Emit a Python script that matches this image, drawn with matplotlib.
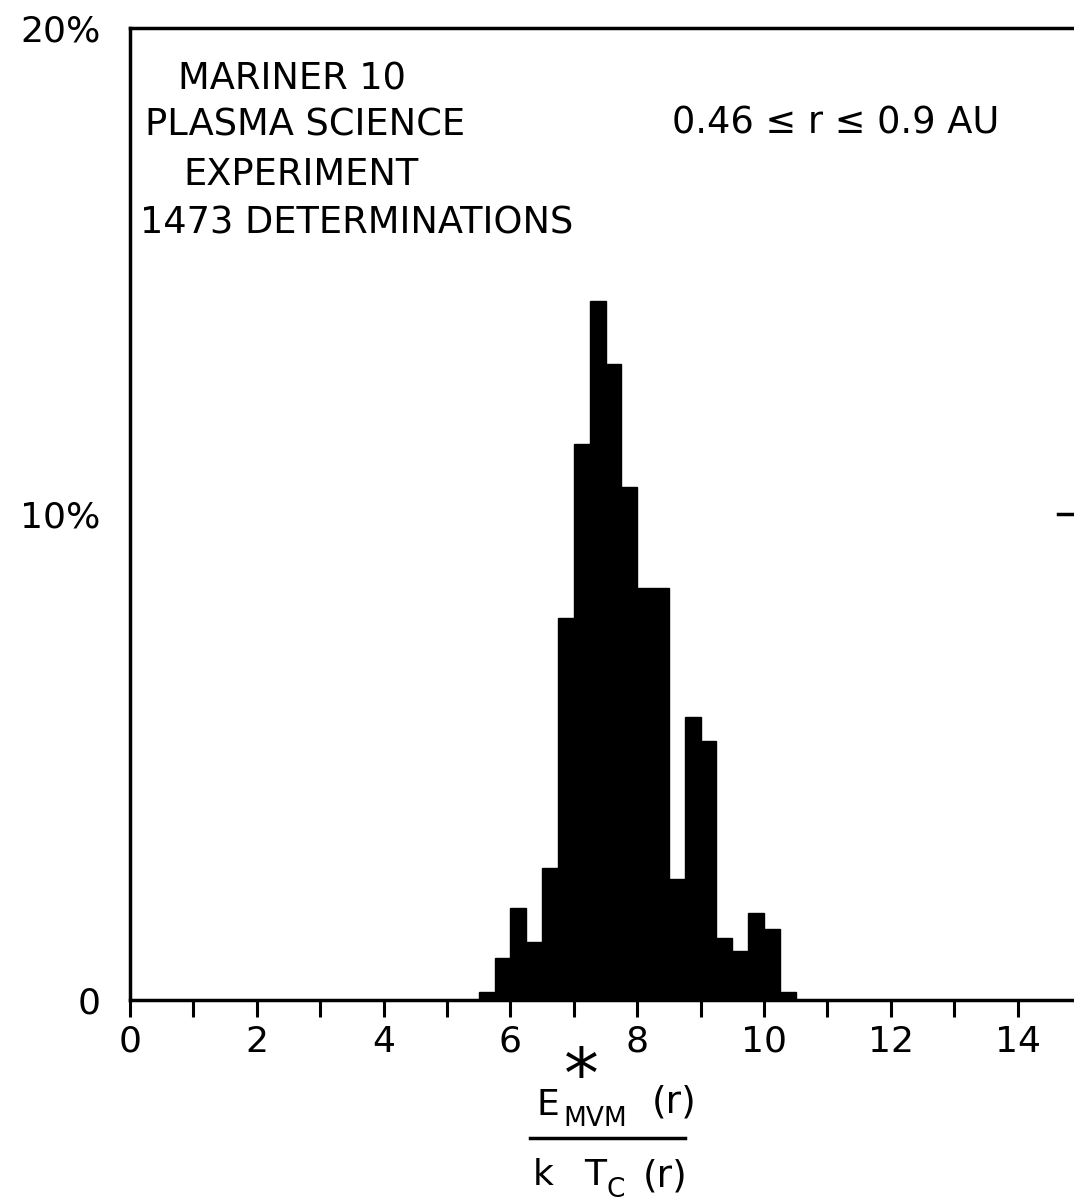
import matplotlib.pyplot as plt

# histogram bins (left edges) and percentages
bin_left = [5.5, 5.75, 6.0, 6.25, 6.5, 6.75, 7.0, 7.25, 7.5, 7.75,
            8.0, 8.25, 8.5, 8.75, 9.0, 9.25, 9.5, 9.75, 10.0, 10.25]
percent = [0.17, 0.86, 1.9, 1.2, 2.71, 7.85, 11.44, 14.38, 13.08, 10.56,
           8.48, 8.48, 2.5, 5.82, 5.33, 1.27, 1.0, 1.8, 1.46, 0.17]
bin_width = 0.25

xticks = list(range(0, 15))
xticklabels = [str(t) if t % 2 == 0 else '' for t in xticks]
yticks = [0, 10, 20]
yticklabels = ['0', '10%', '20%']

W, H = 1074, 1201
fig = plt.figure(figsize=(W / 100, H / 100), dpi=100)
ax = fig.add_axes([130 / W, 1 - 1000 / H, (W - 130) / W, 972 / H])

ax.bar(bin_left, percent, width=bin_width, align='edge',
       color='black', edgecolor='black', linewidth=1)

ax.set_xlim(0, (W - 130) / 63.4)
ax.set_ylim(0, 20)

ax.set_xticks(xticks)
ax.set_xticklabels(xticklabels, fontsize=26)
ax.set_yticks(yticks)
ax.set_yticklabels(yticklabels, fontsize=26)
ax.tick_params(axis='x', direction='out', length=12, width=2.2, pad=6)
ax.tick_params(axis='y', length=0, pad=21)

for s in ['left', 'bottom', 'top']:
    ax.spines[s].set_linewidth(2.5)
ax.spines['right'].set_visible(False)

# little tick of the (cut off) right axis at 10%
ax.axhline(10, xmin=0.983, xmax=1.0, color='black', lw=2.5)

# annotations
txt = dict(fontsize=26.5, color='black', va='baseline', ha='left')
fig.text(178 / W, 1 - 90 / H, 'MARINER 10', **txt)
fig.text(145 / W, 1 - 135 / H, 'PLASMA SCIENCE', **txt)
fig.text(183 / W, 1 - 185 / H, 'EXPERIMENT', **txt)
fig.text(140 / W, 1 - 233 / H, '1473 DETERMINATIONS', **txt)
fig.text(672 / W, 1 - 133 / H, '0.46 \u2264 r \u2264 0.9 AU', **txt)

# x label as a fraction
fig.text(536 / W, 1 - 1115 / H, 'E', fontsize=26, va='baseline')
fig.text(580 / W, 1 - 1076 / H, r'$*$', fontsize=50, ha='center', va='center')
fig.text(563 / W, 1 - 1126 / H, 'MVM', fontsize=19, va='baseline')
fig.text(652 / W, 1 - 1113 / H, '(r)', fontsize=27, va='baseline')
fig.add_artist(plt.Line2D([530 / W, 685 / W], [1 - 1138 / H, 1 - 1138 / H],
                          color='black', lw=2.5))
fig.text(533 / W, 1 - 1185 / H, 'k', fontsize=26, va='baseline')
fig.text(584 / W, 1 - 1185 / H, 'T', fontsize=26, va='baseline')
fig.text(606 / W, 1 - 1197 / H, 'C', fontsize=19, va='baseline')
fig.text(643 / W, 1 - 1186 / H, '(r)', fontsize=27, va='baseline')

fig.savefig('out.png', dpi=100)
